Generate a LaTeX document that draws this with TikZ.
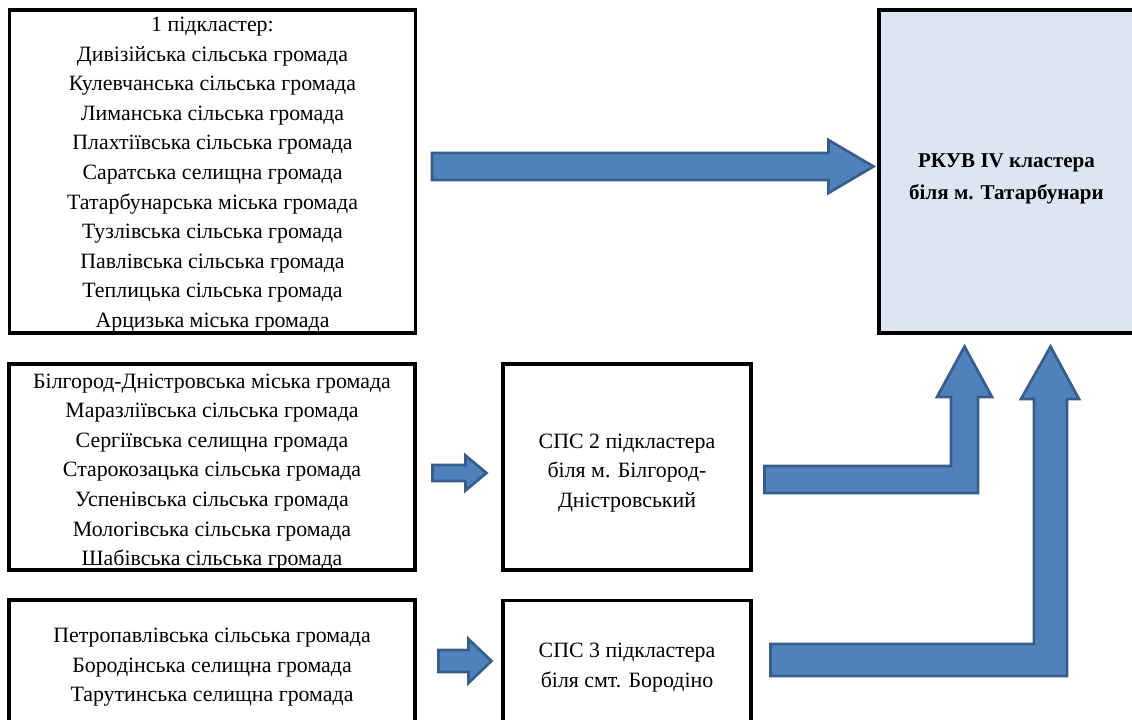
\documentclass[tikz,border=0pt]{standalone}
\usepackage{fontspec}
\setmainfont{Liberation Serif}
\usetikzlibrary{calc}

\definecolor{arrowfill}{HTML}{4F81BD}
\definecolor{arrowline}{HTML}{385D8A}
\definecolor{hubfill}{HTML}{DCE6F2}

\tikzset{
  box/.style={draw=black, line width=2.3pt, fill=white, inner sep=0pt},
  hub/.style={box, fill=hubfill},
  txt/.style={align=center, inner sep=0pt, font=\fontsize{16.4}{22.2}\selectfont},
  hubtxt/.style={align=center, inner sep=0pt, font=\bfseries\fontsize{15.8}{24}\selectfont},
  blockarrow/.style={fill=arrowfill, draw=arrowline, line width=2pt, line join=miter}
}

% horizontal block arrow: #1 tail, #2 tip (same height), #3 shaft half-width,
% #4 head half-width, #5 head length (all in picture units)
\newcommand\hblock[5]{%
  \filldraw[blockarrow]
    ($(#1)+(0,-#3)$) -- ($(#2)+(-#5,-#3)$) -- ($(#2)+(-#5,-#4)$) -- (#2)
    -- ($(#2)+(-#5,#4)$) -- ($(#2)+(-#5,#3)$) -- ($(#1)+(0,#3)$) -- cycle;}

\begin{document}
\begin{tikzpicture}[x=0.75pt, y=-0.75pt]
\useasboundingbox (0,0) rectangle (1132,720);
\clip (0,0) rectangle (1132,720);

% boxes
\node[box, minimum width=304.5pt, minimum height=242.25pt] (b1) at (212.5,171.5) {};
\node[box, minimum width=304.5pt, minimum height=154.5pt] (b2) at (212,467) {};
\node[box, minimum width=304.5pt, minimum height=97.5pt] (b3) at (212,665) {};
\node[box, minimum width=186pt, minimum height=154.5pt] (s2) at (627,467) {};
\node[box, minimum width=186pt, minimum height=97.5pt] (s3) at (627,665.5) {};
\node[hub, minimum width=191.25pt, minimum height=242.25pt] (hub) at (1006.5,171.5) {};

% subcluster lists
\node[txt] (b1t) at ($(b1.center)+(0,3)$)
  {1 підкластер:\\Дивізійська сільська громада\\Кулевчанська сільська громада\\
   Лиманська сільська громада\\Плахтіївська сільська громада\\
   Саратська селищна громада\\Татарбунарська міська громада\\
   Тузлівська сільська громада\\Павлівська сільська громада\\
   Теплицька сільська громада\\Арцизька міська громада};

\node[txt] (b2t) at ($(b2.center)+(0,5)$)
  {Білгород-Дністровська міська громада\\Маразліївська сільська громада\\
   Сергіївська селищна громада\\Старокозацька сільська громада\\
   Успенівська сільська громада\\Мологівська сільська громада\\
   Шабівська сільська громада};

\node[txt] (b3t) at ($(b3.center)+(0,2.5)$)
  {Петропавлівська сільська громада\\Бородінська селищна громада\\
   Тарутинська селищна громада};

% transfer stations
\node[txt] (s2t) at ($(s2.center)+(0,6)$)
  {СПС 2 підкластера\\біля м. Білгород-\\Дністровський};
\node[txt] (s3t) at ($(s3.center)+(0,2)$)
  {СПС 3 підкластера\\біля смт. Бородіно};

% regional centre
\node[hubtxt] (hubt) at ($(hub.center)+(0,7)$)
  {РКУВ IV кластера\\біля м. Татарбунари};

% straight arrows
\coordinate (a1s) at ($(b1.east)+(15,-5)$);
\coordinate (a1t) at ($(hub.west)+(-4,-5)$);
\hblock{a1s}{a1t}{13.5}{26.5}{45}

\coordinate (a2s) at ($(b2.east)+(16,6)$);
\coordinate (a2t) at ($(s2.west)+(-15,6)$);
\hblock{a2s}{a2t}{8}{17.5}{21}

\coordinate (a3s) at ($(b3.east)+(22,-4)$);
\coordinate (a3t) at ($(s3.west)+(-10,-4.5)$);
\hblock{a3s}{a3t}{11}{22}{23}

% bent arrows up into the regional centre
\coordinate (k2) at ($(s2.east)+(12,0)$);
\filldraw[blockarrow]
  (k2 |- 0,466) -- (951,466) -- (951,397) -- (937,397) -- ($(hub.south)+(-42,12)$)
  -- (992,397) -- (978,397) -- (978,493) -- (k2 |- 0,493) -- cycle;

\coordinate (k3) at ($(s3.east)+(18,0)$);
\filldraw[blockarrow]
  (k3 |- 0,644) -- (1034,644) -- (1034,399) -- (1021,399) -- ($(hub.south)+(44,12)$)
  -- (1079,399) -- (1067,399) -- (1067,676) -- (k3 |- 0,676) -- cycle;
\end{tikzpicture}
\end{document}
